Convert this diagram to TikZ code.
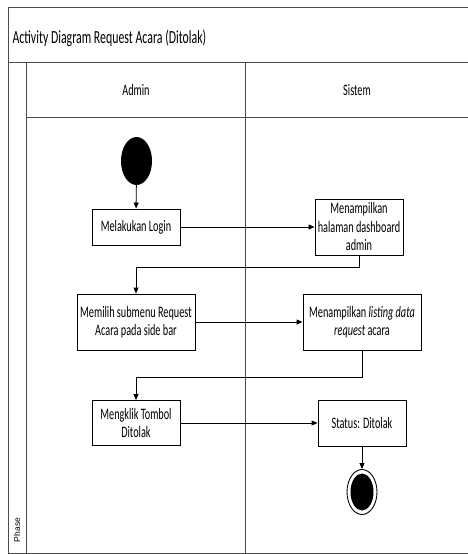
\documentclass[tikz,border=0pt]{standalone}
\usepackage{fontspec}
\setmainfont[FakeStretch=0.64]{Carlito}
\newfontfamily\phasefont{Liberation Sans}
\usetikzlibrary{shapes.geometric,arrows.meta}

\begin{document}
\begin{tikzpicture}[x=1pt, y=-1pt, font=\fontsize{16}{18.5}\selectfont,
  lane/.style={draw=black!70, line width=1pt},
  act/.style={draw, line width=0.9pt, align=center, inner sep=1pt},
  flow/.style={line width=0.9pt, -{Triangle[length=6pt,width=5pt]}}]

\useasboundingbox (0,0) rectangle (468,554);

% swimlane frame
\draw[lane] (468,7) -- (8,7) -- (8,553) -- (468,553);
\draw[lane] (8,62) -- (468,62);
\draw[lane] (26,62) -- (26,553);
\draw[lane] (26,117) -- (468,117);
\draw[lane] (245,62) -- (245,553);

\node[anchor=west, font=\fontsize{18.5}{20}\selectfont] (title) at (9,38) {Activity Diagram Request Acara (Ditolak)};
\node (admin) at (136,90) {Admin};
\node (sistem) at (357,90) {Sistem};
\node[rotate=90, font=\phasefont\fontsize{8.5}{10}\selectfont] (phase) at (17,530) {Phase};

\node[ellipse, fill, minimum width=31, minimum height=48, inner sep=0] (start) at (136.5,161) {};
\node[act, minimum width=88, minimum height=36] (login) at (136,227) {Melakukan Login};
\node[act, minimum width=88, minimum height=56] (dash) at (359,227) {Menampilkan\\halaman dashboard\\admin};
\node[act, minimum width=118, minimum height=56] (pilih) at (136,322) {Memilih submenu Request\\Acara pada side bar};
\node[act, minimum width=118, minimum height=56] (listing) at (362,322) {Menampilkan \textit{listing data}\\\textit{request} acara};
\node[act, minimum width=88, minimum height=45] (klik) at (136,423) {Mengklik Tombol\\Ditolak};
\node[act, minimum width=88, minimum height=46] (status) at (362,423) {Status: Ditolak};
\node[ellipse, draw, line width=0.9pt, minimum width=30, minimum height=45, inner sep=0] (stop) at (362,492) {};
\node[ellipse, fill, minimum width=23, minimum height=37, inner sep=0] (stopdot) at (362,492) {};

\draw[flow] (start) -- (login);
\draw[flow] (login) -- (dash);
\draw[flow] (dash.south) -- ++(0,12) -| (pilih.north);
\draw[flow] (pilih) -- (listing);
\draw[flow] (listing.south) -- ++(0,27) -| (klik.north);
\draw[flow] (klik) -- (status);
\draw[flow] (status) -- (stop);
\end{tikzpicture}
\end{document}
